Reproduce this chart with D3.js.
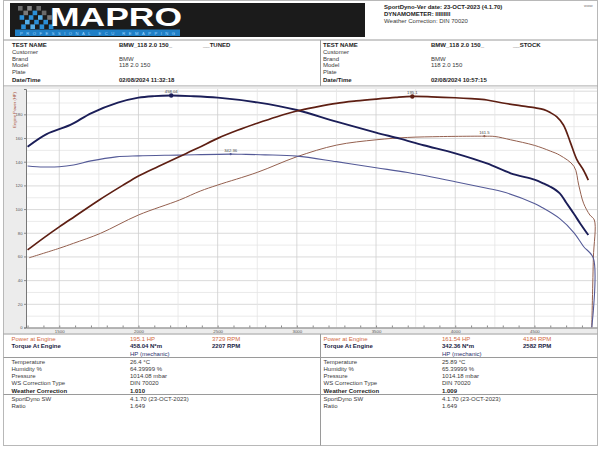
<!DOCTYPE html>
<html><head><meta charset="utf-8">
<script src="https://cdn.jsdelivr.net/npm/d3@7"></script>
<style>
body{margin:0;background:#fff}
svg{display:block;font-family:"Liberation Sans",Arial,sans-serif}
</style>
</head><body>
<svg id="c" width="600" height="449"></svg>
<script>
// ---------- DATA ----------
const tunedPowerRpm = [1300,1400,1500,1600,1750,1900,2000,2125,2250,2375,2500,2625,2750,2875,3000,3125,3250,3375,3500,3625,3729,3850,4000,4100,4200,4300,4400,4500,4560,4600,4640,4683,4725,4767,4809,4840];
const tunedPowerHp  = [65.5,75.5,85,94,107.5,120,128,136,143.8,151.5,159.7,166.5,172.5,178,182.8,186.3,189.3,191.3,192.9,194.3,195.1,194.8,194,193.2,192.1,189.6,187.5,185.6,184,181.5,178,171,157,142,133,124.5];

const tunedTorqueRpm = [1300,1420,1570,1700,1870,2000,2100,2207,2330,2500,2750,3000,3250,3500,3650,3800,4000,4200,4350,4500,4560,4600,4660,4700,4750,4790,4840];
const tunedTorqueNm  = [357,382,400,423,444,454,457,458.04,457,454,444.5,429.5,406.5,385,373,360,344,324,304.5,292,284,278,265,247,224,205,182.7];

const stockPowerRpm = [1310,1500,1590,1760,2000,2260,2390,2500,2750,3000,3250,3500,3700,3900,4000,4184,4250,4350,4500,4600,4660,4750,4780,4810,4850,4878,4872,4862];
const stockPowerHp  = [58.9,66.9,71.1,79.5,95,107.7,115.2,120.3,131,144.2,154,158.5,160.5,161.2,161.4,161.54,161.3,158.5,153.8,149,145.5,136,120,105,95,90.8,58.5,0];

const stockTorqueRpm = [1300,1400,1500,1590,1700,1860,2000,2250,2582,2650,2800,3000,3250,3500,3700,4000,4200,4300,4500,4540,4660,4750,4810,4872,4862];
const stockTorqueNm  = [319,317,317.5,321,329,337,339,340.5,342.36,342,341,338.5,327.5,315.5,306,288,275,268,245,238.5,215,187,160,137,0];

const peakRpm    = [3729, 2207, 4184, 2582];
const peakValue  = [195.1, 458.04, 161.54, 342.36];
const peakLabel  = ["195.1", "458.04", "161.5", "342.36"];

const yTickValues = [0,20,40,60,80,100,120,140,160,180];
const xTickValues = [1500,2000,2500,3000,3500,4000,4500];

const headerLines = ["SportDyno-Ver date: 23-OCT-2023 (4.1.70)", "DYNAMOMETER: IIIIIIIII", "Weather Correction: DIN 70020"];
const infoLabels  = ["TEST NAME","Customer","Brand","Model","Plate","Date/Time"];
const infoLeft    = ["BMW_118 2.0 150_","","BMW","118 2.0 150","","02/08/2024 11:32:18"];
const infoRight   = ["BMW_118 2.0 150_","","BMW","118 2.0 150","","02/08/2024 10:57:15"];
const testSuffix  = ["__TUNED","__STOCK"];

const resLabels = ["Power at Engine","Torque At Engine",""];
const resLeft   = ["195.1 HP","458.04 N*m","HP (mechanic)"];
const resRight  = ["161.54 HP","342.36 N*m","HP (mechanic)"];
const rpmLeft   = ["3729 RPM","2207 RPM"];
const rpmRight  = ["4184 RPM","2582 RPM"];

const wxLabels = ["Temperature","Humidity %","Pressure","WS Correction Type","Weather Correction"];
const wxLeft   = ["26.4 °C","64.39999 %","1014.08 mbar","DIN 70020","1.010"];
const wxRight  = ["25.89 °C","65.39999 %","1014.18 mbar","DIN 70020","1.009"];

const swLabels = ["SportDyno SW","Ratio"];
const swLeft   = ["4.1.70 (23-OCT-2023)","1.649"];
const swRight  = ["4.1.70 (23-OCT-2023)","1.649"];

// ---------- DRAW ----------
const svg = d3.select("#c");
const C = {tp:"#5e1f13", tt:"#1b1e58", sp:"#94604f", st:"#545a97", orange:"#d2693e", text:"#3a3a3a", bold:"#1c1c1c"};

// outer border
svg.append("rect").attr("x",3.5).attr("y",0.5).attr("width",594).attr("height",445)
  .attr("fill","none").attr("stroke","#b8b8b8");

// ---- logo ----
const logo = svg.append("g");
logo.append("rect").attr("x",10).attr("y",3).attr("width",355).attr("height",34).attr("fill","#1b1b1b");
const sq = 4.6;
const checker = [
  [0,0,"#6d6d6d"],[2,0,"#888"],[4,0,"#6d6d6d"],
  [1,1,"#7a7a7a"],[3,1,"#2b8fd8"],[5,1,"#6a6a6a"],
  [0,2,"#2b8fd8"],[2,2,"#2b8fd8"],[4,2,"#55aee8"],[6,2,"#777"],
  [1,3,"#55aee8"],[3,3,"#2b8fd8"],[5,3,"#2b8fd8"],
  [0,4,"#2b8fd8"],[2,4,"#55aee8"],[4,4,"#2b8fd8"],[6,4,"#2b8fd8"]
];
logo.selectAll("rect.ck").data(checker).join("rect").attr("class","ck")
  .attr("x",d=>18+d[0]*sq+ d[1]*0.8).attr("y",d=>6+d[1]*sq).attr("width",sq).attr("height",sq).attr("fill",d=>d[2]);
logo.append("text").attr("x",50).attr("y",26).attr("fill","#fff").attr("font-weight","bold")
  .attr("font-size",25).attr("textLength",132).attr("lengthAdjust","spacingAndGlyphs").text("MAPRO");
logo.append("rect").attr("x",15).attr("y",29.5).attr("width",165).attr("height",6.5).attr("fill","#1f7fc6");
logo.append("text").attr("x",20).attr("y",35.3).attr("fill","#9fd6ff").attr("font-size",4.2)
  .attr("textLength",155).attr("lengthAdjust","spacing").text("PROFESSIONAL ECU REMAPPING");

// header right text
svg.selectAll("text.hdr").data(headerLines).join("text").attr("class","hdr")
  .attr("x",384).attr("y",(d,i)=>8.5+i*7).attr("font-size",6)
  .attr("font-weight",(d,i)=>i<2?"bold":"normal").attr("fill",(d,i)=>i<2?C.bold:C.text).text(d=>d);
svg.append("text").attr("x",584).attr("y",7).attr("font-size",4).attr("fill","#777").text("www");

// ---- info table ----
svg.append("line").attr("x1",3.5).attr("x2",597.5).attr("y1",40).attr("y2",40).attr("stroke","#9a9a9a");
svg.append("line").attr("x1",3.5).attr("x2",597.5).attr("y1",86).attr("y2",86).attr("stroke","#9a9a9a");
svg.append("line").attr("x1",320.5).attr("x2",320.5).attr("y1",40).attr("y2",86).attr("stroke","#9a9a9a");
const infoY = [46.5,53.5,60.5,67.3,74,81.5];
[[12,119,infoLeft,testSuffix[0],203],[323,431,infoRight,testSuffix[1],513]].forEach(([lx,vx,vals,suf,sx])=>{
  infoLabels.forEach((l,i)=>{
    const b = (i===0||i===5);
    svg.append("text").attr("x",lx).attr("y",infoY[i]).attr("font-size",6).attr("font-weight",b?"bold":"normal")
      .attr("fill",b?C.bold:C.text).text(l);
    if(vals[i]) svg.append("text").attr("x",vx).attr("y",infoY[i]).attr("font-size",6).attr("font-weight",b?"bold":"normal")
      .attr("fill",b?C.bold:C.text).text(vals[i]);
  });
  svg.append("text").attr("x",sx).attr("y",infoY[0]).attr("font-size",6).attr("font-weight","bold").attr("fill",C.bold).text(suf);
});

// ---- chart ----
const L=26, R=597, T=89, B=327.5;
svg.append("rect").attr("x",4).attr("y",86.5).attr("width",593).attr("height",247).attr("fill","#ececec");
svg.append("rect").attr("x",L).attr("y",T).attr("width",R-L).attr("height",B-T).attr("fill","#fff");

const x = d3.scaleLinear().domain([1290,4895]).range([L,R]);
const yHp = d3.scaleLinear().domain([0,201.4]).range([B,T]);
const yNm = d3.scaleLinear().domain([0,471]).range([B,T]);

const grid = svg.append("g");
grid.selectAll("line.hg").data(d3.range(10,201,10)).join("line").attr("class","hg")
  .attr("x1",L).attr("x2",R).attr("y1",d=>yHp(d)+0.5).attr("y2",d=>yHp(d)+0.5)
  .attr("stroke",d=>d%20===0?"#d0d0d0":"#e6e6e6").attr("stroke-width",0.8);
grid.selectAll("line.vg").data(d3.range(1500,4900,250)).join("line").attr("class","vg")
  .attr("x1",d=>x(d)).attr("x2",d=>x(d)).attr("y1",T).attr("y2",B)
  .attr("stroke",d=>d%500===0?"#cfcfcf":"#e4e4e4").attr("stroke-width",0.8);

// axes
const yAx = svg.append("g").attr("transform",`translate(${L},0)`)
  .call(d3.axisLeft(yHp).tickValues(yTickValues).tickSize(2).tickPadding(1.5).tickFormat(d3.format("d")));
yAx.select(".domain").attr("stroke","#777");
yAx.selectAll("line").attr("stroke","#888");
yAx.selectAll("text").attr("font-size",4.2).attr("fill","#555").attr("font-family","Liberation Sans, Arial");

const xAx = svg.append("g").attr("transform",`translate(0,${B})`)
  .call(d3.axisBottom(x).tickValues(xTickValues).tickSize(0).tickPadding(2).tickFormat(d3.format("d")));
xAx.select(".domain").attr("stroke","#777");
xAx.selectAll("text").attr("font-size",4.4).attr("fill","#555").attr("font-family","Liberation Sans, Arial");
svg.append("g").attr("transform",`translate(0,${B})`)
  .call(d3.axisTop(x).tickValues(d3.range(1300,4900,100)).tickSize(2).tickFormat(""))
  .call(g=>{g.select(".domain").remove(); g.selectAll("line").attr("stroke","#888");});

svg.append("text").attr("transform",`translate(15.5,92) rotate(-90)`).attr("text-anchor","end")
  .attr("font-size",4.2).attr("fill","#a8503a").text("Engine Power (HP)");

// curves
svg.append("clipPath").attr("id","pc").append("rect")
  .attr("x",L).attr("y",T-2).attr("width",R-L+1).attr("height",B-T+2);
const plot = svg.append("g").attr("clip-path","url(#pc)");
const mk = (rpms, vals, ys) => d3.line().curve(d3.curveCatmullRom.alpha(0.5))
  .x((d,i)=>x(rpms[i])).y((d,i)=>ys(vals[i]))(rpms);

plot.append("path").attr("d",mk(stockPowerRpm,stockPowerHp,yHp)).attr("fill","none").attr("stroke",C.sp).attr("stroke-width",1);
plot.append("path").attr("d",mk(stockTorqueRpm,stockTorqueNm,yNm)).attr("fill","none").attr("stroke",C.st).attr("stroke-width",1.1);
plot.append("path").attr("d",mk(tunedTorqueRpm,tunedTorqueNm,yNm)).attr("fill","none").attr("stroke",C.tt).attr("stroke-width",1.9);
plot.append("path").attr("d",mk(tunedPowerRpm,tunedPowerHp,yHp)).attr("fill","none").attr("stroke",C.tp).attr("stroke-width",1.7);

// peak markers
const pScales = [yHp,yNm,yHp,yNm];
const pCols = [C.tp,C.tt,C.sp,C.st];
const pR = [2.2,2.2,1.1,1.1];
peakRpm.forEach((r,i)=>{
  const px = x(r), py = pScales[i](peakValue[i]);
  svg.append("circle").attr("cx",px).attr("cy",py).attr("r",pR[i]).attr("fill",pCols[i]);
  svg.append("text").attr("x",px).attr("y",py-2.6).attr("text-anchor","middle")
    .attr("font-size",4.2).attr("fill","#444").text(peakLabel[i]);
});

// ---- bottom tables ----
const hl = y => svg.append("line").attr("x1",3.5).attr("x2",597.5).attr("y1",y).attr("y2",y).attr("stroke","#9a9a9a");
hl(334); hl(357.5); hl(394.5);
svg.append("line").attr("x1",320.5).attr("x2",320.5).attr("y1",334).attr("y2",445.5).attr("stroke","#9a9a9a");

const resY = [341.3,348.3,355.5];
const wxY = [364.3,371,378,385.3,392.5];
const swY = [401,408];
[[11.5,130,212,resLeft,rpmLeft,wxLeft,swLeft],[323.5,442,523,resRight,rpmRight,wxRight,swRight]].forEach(([lx,vx,rx,res,rp,wx,sw])=>{
  resLabels.forEach((l,i)=>{
    const col = i===0?C.orange:(i===1?"#1b1e44":"#2b2f6e");
    const fw = i===1?"bold":"normal";
    if(l) svg.append("text").attr("x",lx).attr("y",resY[i]).attr("font-size",6).attr("font-weight",fw).attr("fill",col).text(l);
    svg.append("text").attr("x",vx).attr("y",resY[i]).attr("font-size",6).attr("font-weight",fw).attr("fill",col).text(res[i]);
    if(i<2) svg.append("text").attr("x",rx).attr("y",resY[i]).attr("font-size",6).attr("font-weight",fw).attr("fill",col).text(rp[i]);
  });
  wxLabels.forEach((l,i)=>{
    const b = i===4;
    svg.append("text").attr("x",lx).attr("y",wxY[i]).attr("font-size",6).attr("font-weight",b?"bold":"normal").attr("fill",b?C.bold:C.text).text(l);
    svg.append("text").attr("x",vx).attr("y",wxY[i]).attr("font-size",6).attr("font-weight",b?"bold":"normal").attr("fill",b?C.bold:C.text).text(wx[i]);
  });
  swLabels.forEach((l,i)=>{
    svg.append("text").attr("x",lx).attr("y",swY[i]).attr("font-size",6).attr("fill",C.text).text(l);
    svg.append("text").attr("x",vx).attr("y",swY[i]).attr("font-size",6).attr("fill",C.text).text(sw[i]);
  });
});
</script>
</body></html>
